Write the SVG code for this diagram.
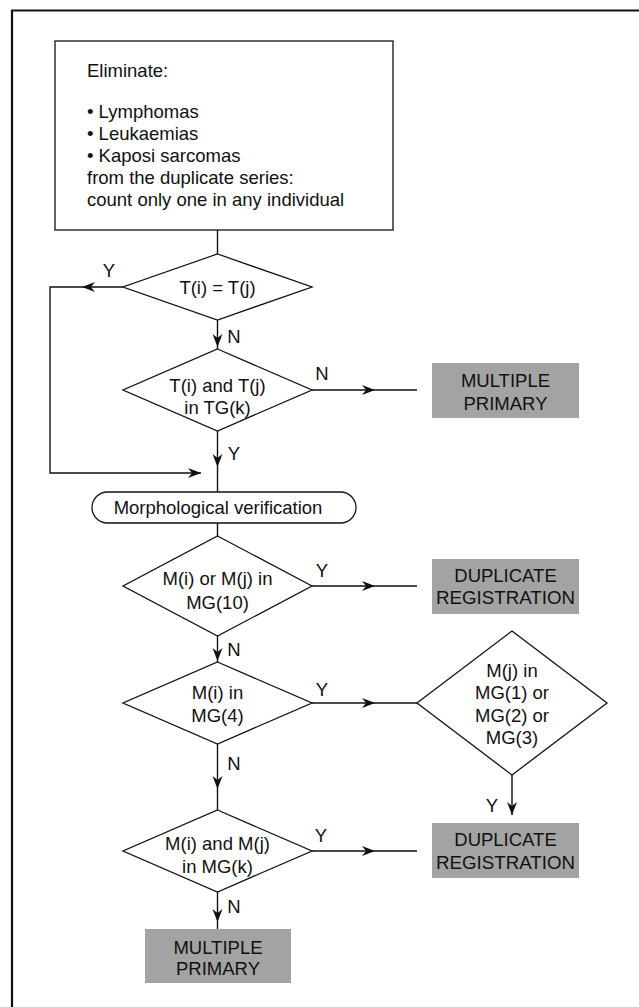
<svg xmlns="http://www.w3.org/2000/svg" xmlns:xlink="http://www.w3.org/1999/xlink" width="639" height="1007" viewBox="0 0 639 1007">
<style>
text{font-family:"Liberation Sans",Arial,sans-serif;font-size:18.5px;fill:#111}
.c{text-anchor:middle}
.shape{fill:#fff;stroke:#111;stroke-width:1.3}
.grey{fill:#a3a3a3;stroke:none}
.ln{fill:none;stroke:#111;stroke-width:1.4}
.frame{fill:none;stroke:#111;stroke-width:2.2}
</style>
<defs>
<path id="ah" d="M0,0 L-13,-5 L-9,0 L-13,5 Z" fill="#111"/>
</defs>
<rect width="639" height="1007" fill="#fff"/>
<path class="frame" d="M12,1007 L12,10.5 L639,10.5"/>

<g id="connectors">
<path class="ln" d="M217.5,230 V254"/>
<path class="ln" d="M123,287 H50 V473 H201"/>
<use xlink:href="#ah" transform="translate(82,287) rotate(180)"/>
<use xlink:href="#ah" transform="translate(201,473)"/>
<path class="ln" d="M217.5,320 V349"/>
<use xlink:href="#ah" transform="translate(217.5,347) rotate(90)"/>
<path class="ln" d="M312,390 H417"/>
<use xlink:href="#ah" transform="translate(375,390)"/>
<path class="ln" d="M217.5,431 V492"/>
<use xlink:href="#ah" transform="translate(217.5,467) rotate(90)"/>
<path class="ln" d="M217.5,523 V536"/>
<path class="ln" d="M312,586 H417"/>
<use xlink:href="#ah" transform="translate(375,586)"/>
<path class="ln" d="M217.5,636 V662"/>
<use xlink:href="#ah" transform="translate(217.5,661) rotate(90)"/>
<path class="ln" d="M312,703 H417"/>
<use xlink:href="#ah" transform="translate(375,703)"/>
<path class="ln" d="M217.5,744 V810"/>
<use xlink:href="#ah" transform="translate(217.5,789) rotate(90)"/>
<path class="ln" d="M512,775 V815"/>
<use xlink:href="#ah" transform="translate(512,815) rotate(90)"/>
<path class="ln" d="M312,851 H417"/>
<use xlink:href="#ah" transform="translate(375,851)"/>
<path class="ln" d="M217.5,892 V929"/>
<use xlink:href="#ah" transform="translate(217.5,922) rotate(90)"/>
<text class="c" x="109" y="277">Y</text>
<text class="c" x="234" y="343">N</text>
<text class="c" x="322" y="380">N</text>
<text class="c" x="234" y="460">Y</text>
<text class="c" x="322" y="577">Y</text>
<text class="c" x="234" y="656">N</text>
<text class="c" x="322" y="696">Y</text>
<text class="c" x="234" y="770">N</text>
<text class="c" x="492" y="812">Y</text>
<text class="c" x="321" y="842">Y</text>
<text class="c" x="234" y="913">N</text>
</g>

<g id="start">
<rect class="shape" x="55" y="41" width="338" height="189"/>
<text x="87" y="77">Eliminate:</text>
<text x="87" y="118">• Lymphomas</text>
<text x="87" y="140">• Leukaemias</text>
<text x="87" y="162">• Kaposi sarcomas</text>
<text x="87" y="184">from the duplicate series:</text>
<text x="87" y="206">count only one in any individual</text>
</g>

<g id="d1">
<polygon class="shape" points="217.5,254 312,287 217.5,320 123,287"/>
<text class="c" x="217.5" y="294">T(i) = T(j)</text>
</g>

<g id="d2">
<polygon class="shape" points="217.5,349 312,390 217.5,431 123,390"/>
<text class="c" x="217.5" y="392">T(i) and T(j)</text>
<text class="c" x="217.5" y="414">in TG(k)</text>
</g>

<g id="mp1">
<rect class="grey" x="432" y="363" width="147" height="55"/>
<text class="c" x="505.5" y="387">MULTIPLE</text>
<text class="c" x="505.5" y="410">PRIMARY</text>
</g>

<g id="morph">
<rect class="shape" x="92" y="492" width="264" height="31" rx="15.5" ry="15.5"/>
<text class="c" x="218" y="514">Morphological verification</text>
</g>

<g id="d3">
<polygon class="shape" points="217.5,536 312,586 217.5,636 123,586"/>
<text class="c" x="217.5" y="585">M(i) or M(j) in</text>
<text class="c" x="217.5" y="609">MG(10)</text>
</g>

<g id="dr1">
<rect class="grey" x="432" y="559" width="147" height="55"/>
<text class="c" x="505.5" y="582">DUPLICATE</text>
<text class="c" x="505.5" y="604" textLength="139" lengthAdjust="spacingAndGlyphs">REGISTRATION</text>
</g>

<g id="d4">
<polygon class="shape" points="217.5,662 312,703 217.5,744 123,703"/>
<text class="c" x="217.5" y="699">M(i) in</text>
<text class="c" x="217.5" y="722">MG(4)</text>
</g>

<g id="d5">
<polygon class="shape" points="512,631 607,703 512,775 417,703"/>
<text class="c" x="512" y="677">M(j) in</text>
<text class="c" x="512" y="699">MG(1) or</text>
<text class="c" x="512" y="722">MG(2) or</text>
<text class="c" x="512" y="744">MG(3)</text>
</g>

<g id="d6">
<polygon class="shape" points="217.5,810 312,851 217.5,892 123,851"/>
<text class="c" x="217.5" y="850">M(i) and M(j)</text>
<text class="c" x="217.5" y="873">in MG(k)</text>
</g>

<g id="dr2">
<rect class="grey" x="432" y="823" width="147" height="55"/>
<text class="c" x="505.5" y="846">DUPLICATE</text>
<text class="c" x="505.5" y="869" textLength="139" lengthAdjust="spacingAndGlyphs">REGISTRATION</text>
</g>

<g id="mp2">
<rect class="grey" x="145" y="929" width="146" height="54"/>
<text class="c" x="218" y="954">MULTIPLE</text>
<text class="c" x="218" y="975">PRIMARY</text>
</g>
</svg>
